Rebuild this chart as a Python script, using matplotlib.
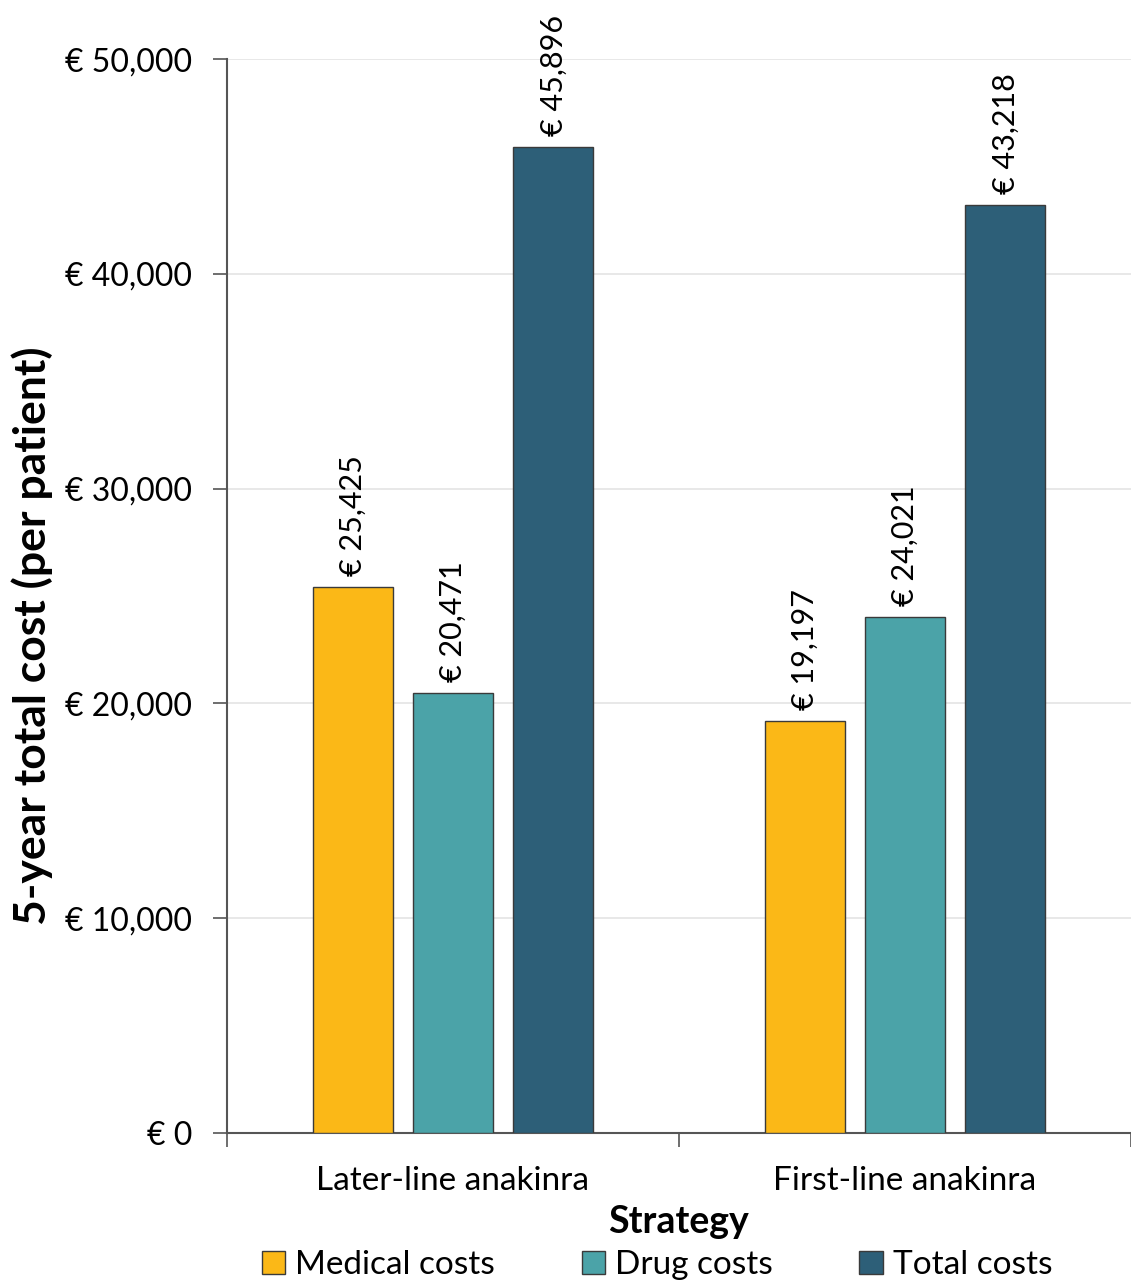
import numpy as np
import matplotlib.pyplot as plt

plt.rcParams['font.family'] = ['Lato', 'DejaVu Sans']

# cost data per strategy
strategies = ["Later-line anakinra", "First-line anakinra"]
series = ["Medical costs", "Drug costs", "Total costs"]
medical = [25425, 19197]
drug = [20471, 24021]
total = [45896, 43218]
colors = ["#FBB817", "#4BA3A8", "#2D5F78"]

fig = plt.figure(figsize=(11.31, 12.81), dpi=100)
ax = fig.add_axes([0.2007, 0.1155, 0.7993, 0.8384])

x = np.arange(len(strategies))
width = 0.177
step = 0.222
for i, (vals, name, c) in enumerate(zip([medical, drug, total], series, colors)):
    pos = x + (i - 1) * step
    ax.bar(pos, vals, width, color=c, edgecolor="#3a3a3a", linewidth=1.0,
           label=name, zorder=3)
    for px, v in zip(pos, vals):
        ax.annotate(f"€ {v:,}", (px, v), xytext=(0, 8), textcoords="offset points",
                    rotation=90, ha="center", va="bottom", fontsize=22)

ax.set_xlim(-0.5, 1.5)
ax.set_ylim(0, 50000)
ax.set_yticks(np.arange(0, 50001, 10000))
ax.set_yticklabels([f"€ {v:,}" for v in range(0, 50001, 10000)], fontsize=23)
ax.yaxis.grid(True, color="#e4e4e4", linewidth=1.2, zorder=0)
ax.set_axisbelow(True)

# category labels sit between group boundary ticks
ax.set_xticks([-0.5, 0.5, 1.5])
ax.set_xticklabels([])
ax.set_xticks(x, minor=True)
ax.set_xticklabels(strategies, minor=True, fontsize=24)
ax.tick_params(axis="x", which="minor", length=0, pad=24)
ax.tick_params(axis="x", which="major", length=10, width=1.2, color="#555555")
ax.tick_params(axis="y", length=10, width=1.2, color="#555555", pad=15)

for s in ["top", "right"]:
    ax.spines[s].set_visible(False)
for s in ["left", "bottom"]:
    ax.spines[s].set_color("#555555")
    ax.spines[s].set_linewidth(1.5)

fig.text(0.0283, 0.504, "5-year total cost (per patient)", fontsize=32,
         fontweight="bold", rotation=90, ha="center", va="center")
fig.text(0.5995, 0.0461, "Strategy", fontsize=27, fontweight="bold",
         ha="center", va="center")

fig.legend(loc="center", bbox_to_anchor=(0.581, 0.0125), ncol=3,
           frameon=False, fontsize=24, handlelength=0.7, handleheight=0.7,
           handletextpad=0.3, columnspacing=2.6, borderpad=0)

fig.savefig("out.png", dpi=100)
